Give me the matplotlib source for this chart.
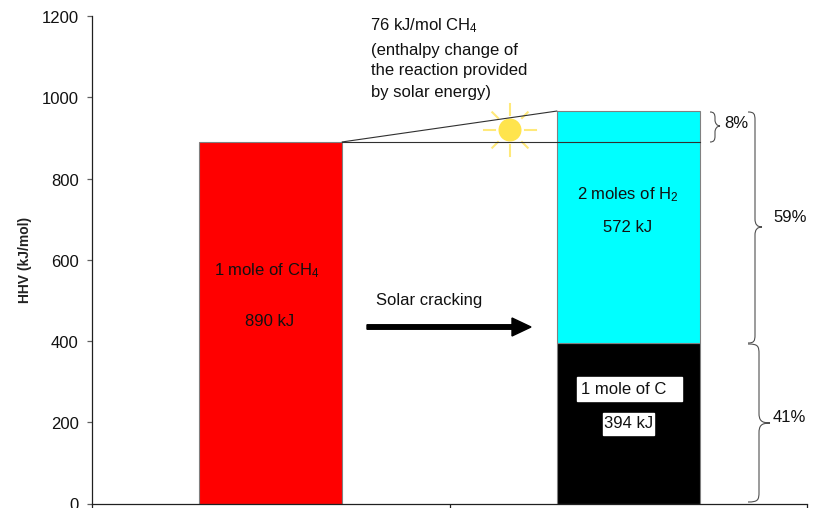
import matplotlib
matplotlib.use("Agg")
import matplotlib.pyplot as plt
from matplotlib.path import Path
from matplotlib.patches import PathPatch, Circle, FancyArrow
from matplotlib.transforms import Affine2D, ScaledTranslation
import numpy as np

plt.rcParams['font.family'] = ['Liberation Sans', 'DejaVu Sans']
plt.rcParams['mathtext.fontset'] = 'custom'
plt.rcParams['mathtext.rm'] = 'Liberation Sans'
plt.rcParams['mathtext.default'] = 'rm'

# data
categories = ['CH4', 'Products']
ch4_values = [890, 0]
carbon_values = [0, 394]
hydrogen_values = [0, 572]
y_ticks = [0, 200, 400, 600, 800, 1000, 1200]

W, H = 814, 508
fig = plt.figure(figsize=(W/100, H/100), dpi=100, facecolor='white')
L, R, T, B = 92.0, 807.0, 16.0, 503.5
ax = fig.add_axes([L/W, 1-B/H, (R-L)/W, (B-T)/H])
px = Affine2D().scale(1, -1).translate(0, H)

x = np.array([0.5, 1.5])
edge = '#808080'
ax.bar(x[0], ch4_values[0], width=0.4, color='#FF0000', edgecolor=edge, linewidth=0.8, zorder=2)
ax.bar(x[1], carbon_values[1], width=0.4, color='#000000', edgecolor=edge, linewidth=0.8, zorder=2)
ax.bar(x[1], hydrogen_values[1], bottom=carbon_values[1], width=0.4, color='#00FFFF', edgecolor=edge, linewidth=0.8, zorder=2)

ax.set_xlim(0, 2)
ax.set_ylim(0, 1200)
ax.set_yticks(y_ticks)
ax.set_xticks([0, 1, 2])
ax.set_xticklabels([])
ax.tick_params(axis='y', labelsize=12, length=3.6, width=0.9, pad=6, color='#606060', labelcolor='#111111')
ax.tick_params(axis='x', length=5, width=0.9, color='#202020')
for lab in ax.get_yticklabels():
    lab.set_transform(lab.get_transform() + ScaledTranslation(0, -1/100, fig.dpi_scale_trans))
for s in ['top', 'right']:
    ax.spines[s].set_visible(False)
for s in ['left', 'bottom']:
    ax.spines[s].set_linewidth(0.9)
    ax.spines[s].set_color('#202020')
ax.set_facecolor('none')

fig.text(25.5/W, 1-260/H, 'HHV (kJ/mol)', rotation=90, ha='center', va='center',
         fontsize=10, fontweight='bold', color='#222222')

# connector lines
total = carbon_values[1] + hydrogen_values[1]
ax.plot([0.7, 1.7], [ch4_values[0]]*2, color='#303030', lw=0.8, zorder=4)
ax.plot([0.7, 1.3], [ch4_values[0], total], color='#303030', lw=0.8, zorder=4)

# sun
cx, cy = 510, 130
for a in np.arange(0, 360, 45):
    c, s = np.cos(np.radians(a)), np.sin(np.radians(a))
    r0, r1 = (15, 26) if a % 90 == 0 else (17, 25)
    ax.plot([cx+r0*c, cx+r1*c], [cy+r0*s, cy+r1*s], transform=px, color='#FFE97A', lw=1.5, zorder=3, clip_on=False)
ax.add_patch(Circle((cx, cy), 11.5, transform=px, facecolor='#FFE44D', edgecolor='none', zorder=3, clip_on=False))

# arrow
ax.add_patch(FancyArrow(367, 327, 164, 0, width=4.5, head_width=18, head_length=19,
                        length_includes_head=True, transform=px, color='black', zorder=5, clip_on=False))

def label(xp, yp, s, ha='left', size=12):
    return ax.text(xp, yp, s, transform=px, ha=ha, va='center', fontsize=size, color='#111111', zorder=6, clip_on=False)

label(370.5, 26, r'76 kJ/mol CH$_4$')
label(371, 50, '(enthalpy change of')
label(371, 71, 'the reaction provided')
label(371, 93, 'by solar energy)')
label(267, 271, r'1 mole of CH$_4$', ha='center')
label(270, 322, '890 kJ', ha='center')
label(376, 300, 'Solar cracking')
label(628, 195, r'2 moles of H$_2$', ha='center')
label(628, 228, '572 kJ', ha='center')

for (x0, x1, y0, y1) in [(577, 682, 377, 401), (603, 654, 413, 435)]:
    ax.fill([x0, x1, x1, x0], [y0, y0, y1, y1], transform=px, color='white', zorder=5, clip_on=False)
label(581, 389, '1 mole of C')
label(604, 424, '394 kJ')
label(724, 123, '8%')
label(773, 218, '59%')
label(773, 418, '41%')

def brace(x0, xs, xt, y0, y1, ym, r):
    verts = [(x0, y0),
             (xs-1, y0), (xs, y0+2), (xs, y0+r),
             (xs, ym-r),
             (xs, ym-3), (xs+2, ym), (xt, ym),
             (xs+2, ym), (xs, ym+3), (xs, ym+r),
             (xs, y1-r),
             (xs, y1-2), (xs-1, y1), (x0, y1)]
    codes = [Path.MOVETO, Path.CURVE4, Path.CURVE4, Path.CURVE4, Path.LINETO,
             Path.CURVE4, Path.CURVE4, Path.CURVE4, Path.CURVE4, Path.CURVE4, Path.CURVE4,
             Path.LINETO, Path.CURVE4, Path.CURVE4, Path.CURVE4]
    ax.add_patch(PathPatch(Path(verts, codes), transform=px, fill=False, edgecolor='#505050',
                           lw=0.8, zorder=5, clip_on=False))

brace(710, 715, 720, 112, 142, 126, 6)
brace(748, 755, 762, 112, 343, 227, 8)
brace(748, 759, 770, 344, 502, 423, 10)

fig.savefig('out.png', dpi=100, facecolor='white')
